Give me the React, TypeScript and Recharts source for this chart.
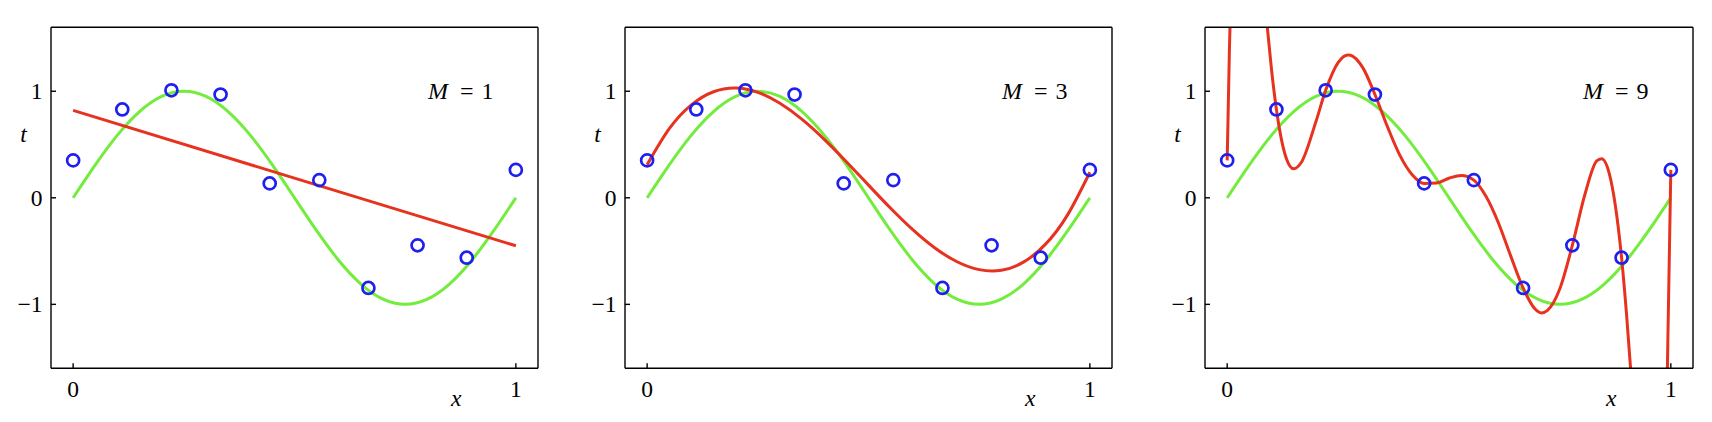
import React from 'react';
import { ComposedChart, Line, Scatter, XAxis, YAxis } from 'recharts';

// observed data points
const obsX = [0, 0.111, 0.222, 0.333, 0.444, 0.556, 0.667, 0.778, 0.889, 1];
const obsT = [0.351, 0.829, 1.009, 0.969, 0.135, 0.166, -0.846, -0.446, -0.562, 0.262];

// sampled curves
const curveX = [0, 0.05, 0.1, 0.15, 0.2, 0.25, 0.3, 0.35, 0.4, 0.45, 0.5, 0.55, 0.6, 0.65, 0.7, 0.75, 0.8, 0.85, 0.9, 0.95, 1];
const trueT = [0, 0.309, 0.588, 0.809, 0.951, 1, 0.951, 0.809, 0.588, 0.309, 0, -0.309, -0.588, -0.809, -0.951, -1, -0.951, -0.809, -0.588, -0.309, 0];
const fitM3T = [0.31, 0.648, 0.872, 0.995, 1.03, 0.99, 0.887, 0.736, 0.549, 0.339, 0.119, -0.098, -0.299, -0.471, -0.6, -0.674, -0.68, -0.604, -0.435, -0.158, 0.24];

const fitM1X = [0, 1];
const fitM1T = [0.82, -0.45];

const fitM9X = [0, 0.005, 0.01, 0.02, 0.05, 0.08, 0.09, 0.1, 0.111, 0.133, 0.15, 0.167, 0.2, 0.222, 0.25, 0.272, 0.278, 0.306, 0.333, 0.361, 0.389, 0.417, 0.444, 0.472, 0.5, 0.528, 0.556, 0.583, 0.611, 0.639, 0.667, 0.694, 0.708, 0.722, 0.75, 0.778, 0.806, 0.833, 0.844, 0.861, 0.889, 0.9, 0.917, 0.944, 0.989, 0.994, 1];
const fitM9T = [0.351, 1.385, 2.188, 3.22, 3.44, 2.08, 1.62, 1.2, 0.829, 0.374, 0.272, 0.331, 0.715, 1.009, 1.269, 1.341, 1.338, 1.219, 0.969, 0.67, 0.401, 0.217, 0.135, 0.139, 0.184, 0.21, 0.166, 0.016, -0.232, -0.545, -0.846, -1.043, -1.08, -1.056, -0.851, -0.446, 0.026, 0.346, 0.367, 0.232, -0.562, -1.083, -2.031, -3.7, -2.257, -1.177, 0.262];

const xTicks = [0, 1];
const yTicks = [-1, 0, 1];
const orders = ['1', '3', '9'];

const zip = (xs: number[], ys: number[]) => xs.map((x, i) => ({ x, y: ys[i] }));

const obsData = zip(obsX, obsT);
const trueData = zip(curveX, trueT);
const fits = [
  { data: zip(fitM1X, fitM1T), type: 'linear' },
  { data: zip(curveX, fitM3T), type: 'natural' },
  { data: zip(fitM9X, fitM9T), type: 'monotone' },
];

const panels = [
  { left: 50.7, right: 537.7 },
  { left: 625, right: 1112 },
  { left: 1205, right: 1693 },
];

const FONT = '"Liberation Serif", "Times New Roman", Times, serif';
const FS = 23.5;
const GREEN = '#74ec3e';
const RED = '#e6321e';
const BLUE = '#2020ee';
const LEFT_W = 60;
const RIGHT_W = 15;
const TOP_H = 27.3;
const BOTTOM_H = 53.7;

const fmt = (v: number) => (v < 0 ? '\u2212' + Math.abs(v) : String(v));

const BottomTick = (p: any) => (
  <text x={p.x} y={p.y + 33.7} textAnchor="middle" fontFamily={FONT} fontSize={FS} fill="#000">
    {fmt(p.payload.value)}
  </text>
);

const LeftTick = (p: any) => (
  <text x={p.x} y={p.y + 7.8} textAnchor="end" fontFamily={FONT} fontSize={FS} fill="#000">
    {fmt(p.payload.value)}
  </text>
);

const Ring = (p: any) => (
  <circle cx={p.cx} cy={p.cy} r={6} fill="none" stroke={BLUE} strokeWidth={2.7} />
);

const axisStroke = { stroke: '#000', strokeWidth: 1.4 };

function Panel({ idx }: { idx: number }) {
  const pn = panels[idx];
  const plotW = pn.right - pn.left;
  const width = plotW + LEFT_W + RIGHT_W;
  const fit = fits[idx];
  return (
    <div style={{ position: 'absolute', left: pn.left - LEFT_W, top: 0, width, height: 422 }}>
      <ComposedChart width={width} height={422} margin={{ top: 0, right: 0, bottom: 0, left: 0 }}>
        <XAxis
          xAxisId="b"
          type="number"
          dataKey="x"
          orientation="bottom"
          domain={[-0.05, 1.05]}
          ticks={xTicks}
          interval={0}
          allowDataOverflow
          height={BOTTOM_H}
          tickSize={-5}
          tickMargin={0}
          axisLine={axisStroke}
          tickLine={axisStroke}
          tick={BottomTick}
          label={{
            content: (lp: any) => {
              const vb = lp.viewBox || { x: LEFT_W, y: 368.3, width: plotW };
              return (
                <text x={vb.x + vb.width - 81.7} y={vb.y + 37.7} textAnchor="middle" fontFamily={FONT} fontStyle="italic" fontSize={FS} fill="#000">
                  x
                </text>
              );
            },
          }}
        />
        <XAxis
          xAxisId="t"
          type="number"
          dataKey="x"
          orientation="top"
          domain={[-0.05, 1.05]}
          ticks={xTicks}
          interval={0}
          allowDataOverflow
          height={TOP_H}
          tickSize={-5}
          axisLine={axisStroke}
          tickLine={axisStroke}
          tick={false}
          label={{
            content: (lp: any) => {
              const vb = lp.viewBox || { x: LEFT_W, y: 0, width: plotW };
              const r = vb.x + vb.width;
              const base = vb.y + 98.8;
              return (
                <text x={r - 110} y={base} fontFamily={FONT} fontSize={24} fill="#000">
                  <tspan fontStyle="italic">M</tspan>
                  <tspan dx={12}>=</tspan>
                  <tspan dx={8}>{orders[idx]}</tspan>
                </text>
              );
            },
          }}
        />
        <YAxis
          yAxisId="l"
          type="number"
          dataKey="y"
          orientation="left"
          domain={[-1.6, 1.6]}
          ticks={yTicks}
          interval={0}
          allowDataOverflow
          width={LEFT_W}
          tickSize={-5}
          tickMargin={13.4}
          axisLine={axisStroke}
          tickLine={axisStroke}
          tick={LeftTick}
          label={{
            content: (lp: any) => {
              const vb = lp.viewBox || { x: 0, y: TOP_H, width: LEFT_W };
              return (
                <text x={vb.x + vb.width - 27.4} y={vb.y + 114.7} textAnchor="middle" fontFamily={FONT} fontStyle="italic" fontSize={FS} fill="#000">
                  t
                </text>
              );
            },
          }}
        />
        <YAxis
          yAxisId="r"
          type="number"
          dataKey="y"
          orientation="right"
          domain={[-1.6, 1.6]}
          ticks={yTicks}
          interval={0}
          allowDataOverflow
          width={RIGHT_W}
          tickSize={-5}
          axisLine={axisStroke}
          tickLine={axisStroke}
          tick={false}
        />
        <Line
          xAxisId="b"
          yAxisId="l"
          data={trueData}
          dataKey="y"
          type="natural"
          stroke={GREEN}
          strokeWidth={3}
          dot={false}
          activeDot={false}
          isAnimationActive={false}
        />
        <Scatter
          xAxisId="b"
          yAxisId="l"
          data={obsData}
          dataKey="y"
          shape={Ring}
          isAnimationActive={false}
        />
        <Line
          xAxisId="b"
          yAxisId="l"
          data={fit.data}
          dataKey="y"
          type={fit.type as any}
          stroke={RED}
          strokeWidth={3}
          dot={false}
          activeDot={false}
          isAnimationActive={false}
        />
      </ComposedChart>
    </div>
  );
}

export default function App() {
  return (
    <div style={{ position: 'relative', width: 1712, height: 422, margin: -8, background: '#fff', overflow: 'hidden' }}>
      <Panel idx={0} />
      <Panel idx={1} />
      <Panel idx={2} />
    </div>
  );
}
